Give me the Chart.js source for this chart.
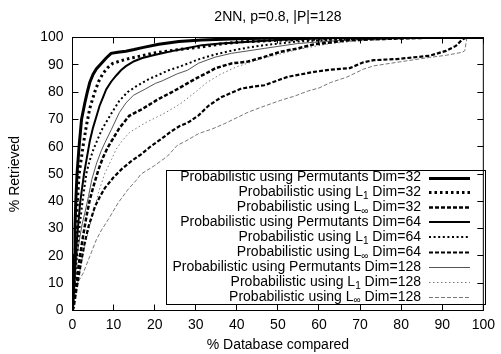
<!DOCTYPE html>
<html><head><meta charset="utf-8">
<script src="https://cdn.jsdelivr.net/npm/chart.js@4/dist/chart.umd.min.js"></script>
<style>html,body{margin:0;padding:0;background:#fff}#wrap{width:501px;height:354px}</style>
</head><body><div id="wrap"><canvas id="c" width="501" height="354"></canvas></div>
<script>
const chartTitle = '2NN, p=0.8, |P|=128';
const xTitle = '% Database compared';
const yTitle = '% Retrieved';
const xTicks = [0, 10, 20, 30, 40, 50, 60, 70, 80, 90, 100];
const yTicks = [0, 10, 20, 30, 40, 50, 60, 70, 80, 90, 100];
const seriesNames = [
  'Probabilistic using Permutants Dim=32',
  'Probabilistic using L_1 Dim=32',
  'Probabilistic using L_\u221e Dim=32',
  'Probabilistic using Permutants Dim=64',
  'Probabilistic using L_1 Dim=64',
  'Probabilistic using L_\u221e Dim=64',
  'Probabilistic using Permutants Dim=128',
  'Probabilistic using L_1 Dim=128',
  'Probabilistic using L_\u221e Dim=128'
];

const perm32X = [0, 0.2, 0.4, 0.6, 0.8, 1.1, 1.6, 2.2, 3.0, 3.6, 4.2, 5.0, 5.8, 7.0, 8.2, 9.4, 11, 13, 15, 17, 21, 25.9, 31.4, 40, 50, 60, 100];
const perm32Y = [0, 10, 20, 30, 40, 50, 60, 70, 76, 80, 83.5, 86.5, 88.5, 90.5, 92.5, 94.2, 94.6, 95, 95.6, 96.3, 97.5, 98.5, 99.1, 99.5, 99.8, 100, 100];

const l1d32X = [0, 0.3, 0.6, 0.9, 1.2, 1.6, 2.6, 3.3, 4.2, 5.4, 6.4, 7.4, 8.6, 9.8, 11.8, 13.8, 16.5, 19.4, 22, 25, 28, 31.5, 36, 41, 50, 60, 70, 80, 100];
const l1d32Y = [0, 10, 20, 30, 40, 50, 60.5, 67, 74, 80, 84, 86.8, 89, 90.5, 91.5, 92.3, 93.2, 94.2, 94.8, 95.4, 96, 96.6, 97.6, 98.4, 99, 99.4, 99.7, 100, 100];

const linf32X = [0, 0.4, 1.0, 1.8, 2.6, 3.4, 4.2, 5.1, 6.3, 7.4, 8.6, 9.8, 11.4, 13.8, 15.4, 17, 20.2, 22, 24.2, 26, 28.3, 30.7, 32.7, 34.7, 38.7, 42.7, 46.7, 50.7, 54.8, 58.8, 62.8, 66.8, 72, 78.9, 86, 100];
const linf32Y = [0, 5, 11.2, 19.8, 27.5, 34.5, 40.5, 45.5, 51.5, 56, 59.8, 62.8, 66.8, 71.3, 72.6, 73.8, 76.8, 78.3, 80, 81.5, 83.5, 85.5, 87, 88.7, 90.5, 91.2, 92.9, 94.8, 96, 97.5, 98.2, 98.9, 99.3, 99.6, 99.9, 100];

const perm64X = [0, 0.4, 0.8, 1.3, 1.9, 2.8, 3.5, 4.2, 5.0, 5.8, 6.6, 7.4, 8.2, 9.4, 10.6, 11.8, 13, 15, 17, 19.4, 21.8, 24.5, 27.5, 31.5, 36, 40, 50, 60, 70, 80, 100];
const perm64Y = [0, 10, 20, 30, 40, 50, 56, 62, 67, 71, 75, 78, 81, 83.8, 86, 88, 89.5, 91.3, 92.5, 93.4, 94.2, 95.1, 96, 97.2, 97.8, 98.2, 99.1, 99.6, 99.9, 100, 100];

const l1d64X = [0, 0.5, 1.1, 1.8, 2.6, 3.4, 4.2, 5.1, 6.2, 7.2, 8.6, 9.8, 11.4, 13.4, 15.4, 18.6, 20.2, 23.4, 25.9, 28.3, 30.7, 34.7, 38.7, 42.7, 46.7, 54.8, 62.8, 70, 80, 90, 100];
const l1d64Y = [0, 10, 20, 32, 41.8, 50.4, 55, 59, 63, 66.4, 70, 73, 76.8, 80, 82, 84.8, 85.8, 88, 89.2, 90.6, 92, 93.8, 95.2, 96.3, 97.2, 98.5, 99.2, 99.6, 99.9, 100, 100];

const linf64X = [0, 0.3, 0.8, 1.35, 2.2, 3.0, 3.9, 4.7, 5.5, 6.7, 7.9, 9.9, 11.9, 14.3, 16.7, 19.1, 21.5, 23.9, 26, 28.3, 30.7, 33.1, 36.3, 41.1, 44, 46.7, 50.7, 52.4, 58.8, 62.8, 67.5, 70.8, 73.3, 78.9, 86.9, 90.9, 93.3, 94.9, 96, 100];
const linf64Y = [0, 1, 6, 11.2, 18.6, 25, 30.8, 34.5, 38.2, 41.8, 44.9, 48.6, 51.7, 54.7, 57.2, 60.2, 62.7, 65.5, 67.5, 69, 71.5, 75, 78.2, 81.3, 82, 82.5, 84.7, 85.6, 87.4, 88.2, 88.8, 90.9, 91.7, 92.1, 93.3, 95.1, 96.9, 99.3, 100, 100];

const perm128X = [0, 0.5, 1.1, 1.8, 2.4, 3.0, 3.9, 4.7, 5.9, 7.0, 7.9, 9.5, 11.4, 13, 14.8, 17.8, 20.2, 21.8, 25.5, 28, 30.7, 34.7, 38.7, 46.7, 54.8, 62.8, 70, 80, 90, 100];
const perm128Y = [0, 10, 20, 27, 32, 35.7, 41.8, 48, 54.1, 58.5, 61.5, 66.4, 72.5, 76, 78.8, 81.2, 83.2, 84.1, 86.7, 88, 90.6, 92.8, 94.2, 96, 97.8, 98.7, 99.2, 99.6, 99.9, 100];

const l1d128X = [0, 0.6, 1.35, 2.4, 3.3, 4.2, 5.1, 6.3, 7.9, 9.5, 10.6, 11.9, 13.8, 15.8, 17.8, 20.2, 22.7, 24.7, 26.7, 29.9, 32.7, 36, 40, 46.7, 54.8, 62.8, 70, 80, 90, 100];
const l1d128Y = [0, 4, 11.2, 19.5, 25.5, 30.8, 35.7, 43.1, 50.4, 55.3, 59, 61.8, 65.1, 67, 68.8, 70.6, 72.5, 74.3, 76.2, 80, 83.5, 86.5, 89.3, 92.5, 95.6, 97.8, 98.8, 99.5, 99.9, 100];

const linf128X = [0, 0.6, 1.2, 2.6, 4.2, 5.8, 7.1, 8.7, 11.1, 13.5, 15.4, 16.7, 19.9, 23.1, 25.5, 27.5, 30.7, 34, 37.1, 42.7, 46, 50.7, 54, 57.5, 60, 62.8, 66.8, 70.8, 73.3, 78.9, 86.9, 91, 94.9, 95.5, 96, 100];
const linf128Y = [0, 4, 10, 13.7, 19.8, 25.9, 29.6, 33.3, 39.4, 44.3, 47.5, 50, 53, 56.5, 60.5, 62, 64.8, 66.5, 68.5, 72.6, 74.5, 77, 78.5, 80.5, 81.5, 83.5, 85.5, 88.4, 89.6, 90.9, 92.7, 93.5, 94.6, 95.2, 100, 100];

const seriesX = [perm32X, l1d32X, linf32X, perm64X, l1d64X, linf64X, perm128X, l1d128X, linf128X];
const seriesY = [perm32Y, l1d32Y, linf32Y, perm64Y, l1d64Y, linf64Y, perm128Y, l1d128Y, linf128Y];

const styles = [
  {c:'#000', w:3,   d:[]},
  {c:'#000', w:3,   d:[2.5,3]},
  {c:'#000', w:2.5, d:[4,2]},
  {c:'#000', w:2,   d:[]},
  {c:'#000', w:2,   d:[2,2.6]},
  {c:'#000', w:2.2, d:[4,2]},
  {c:'#555', w:1,   d:[]},
  {c:'#777', w:1,   d:[1.5,2.5]},
  {c:'#777', w:1,   d:[4,2]}
];

const FONT = '"Liberation Sans", Arial, Helvetica, sans-serif';

const datasets = seriesNames.map((name, i) => ({
  label: name,
  data: seriesX[i].map((x, k) => ({x: x, y: seriesY[i][k]})),
  borderColor: styles[i].c,
  borderWidth: styles[i].w,
  borderDash: styles[i].d,
  borderCapStyle: 'butt',
  borderJoinStyle: 'miter',
  pointRadius: 0,
  fill: false,
  tension: 0
}));

function drawRich(ctx, text, xRight, yMid) {
  const parts = text.split(/_(.)/);
  const big = '14px ' + FONT, small = '10px ' + FONT;
  let total = 0;
  parts.forEach((p, i) => { ctx.font = (i % 2) ? small : big; total += ctx.measureText(p).width; });
  let x = xRight - total;
  ctx.textAlign = 'left';
  ctx.textBaseline = 'middle';
  parts.forEach((p, i) => {
    ctx.font = (i % 2) ? small : big;
    ctx.fillText(p, x, (i % 2) ? yMid + 4 : yMid);
    x += ctx.measureText(p).width;
  });
}

const framePlugin = {
  id: 'frame',
  afterDatasetsDraw(chart) {
    const {ctx, chartArea: a, scales: {x, y}} = chart;
    ctx.save();
    // legend box
    const bx = 166.5, by = 170.5, bw = 319, bh = 134;
    ctx.fillStyle = '#fff';
    ctx.fillRect(bx, by, bw, bh);
    ctx.strokeStyle = '#000';
    ctx.lineWidth = 1;
    ctx.setLineDash([]);
    ctx.strokeRect(bx, by, bw, bh);
    chart.data.datasets.forEach((ds, i) => {
      const ym = 177.5 + i * 14.9;
      ctx.fillStyle = '#000';
      drawRich(ctx, ds.label, 421, ym);
      ctx.beginPath();
      ctx.strokeStyle = ds.borderColor;
      ctx.lineWidth = ds.borderWidth;
      ctx.setLineDash(ds.borderDash);
      ctx.lineCap = 'butt';
      const yy = Math.round(ym) + (ds.borderWidth % 2 ? 0.5 : 0);
      ctx.moveTo(429, yy);
      ctx.lineTo(470, yy);
      ctx.stroke();
    });
    ctx.setLineDash([]);
    // border
    ctx.strokeStyle = '#000';
    ctx.lineWidth = 1;
    ctx.strokeRect(a.left, a.top, a.right - a.left, a.bottom - a.top);
    // inward ticks
    const L = 6;
    ctx.beginPath();
    xTicks.forEach(v => {
      const p = Math.floor(x.getPixelForValue(v)) + 0.5;
      ctx.moveTo(p, a.bottom); ctx.lineTo(p, a.bottom - L);
      ctx.moveTo(p, a.top); ctx.lineTo(p, a.top + L);
    });
    yTicks.forEach(v => {
      const p = Math.floor(y.getPixelForValue(v)) + 0.5;
      ctx.moveTo(a.left, p); ctx.lineTo(a.left + L, p);
      ctx.moveTo(a.right, p); ctx.lineTo(a.right - L, p);
    });
    ctx.stroke();
    // title
    ctx.fillStyle = '#000';
    ctx.font = '14px ' + FONT;
    ctx.textAlign = 'center';
    ctx.textBaseline = 'middle';
    ctx.fillText(chartTitle, (a.left + a.right) / 2, 17.5);
    ctx.restore();
  }
};

new Chart(document.getElementById('c'), {
  type: 'line',
  data: {datasets: datasets},
  options: {
    responsive: false,
    devicePixelRatio: 1,
    animation: false,
    layout: {padding: {left: 0.5, right: 13.5, top: 37.5, bottom: 0}},
    plugins: {legend: {display: false}, title: {display: false}, tooltip: {enabled: false}},
    scales: {
      x: {
        type: 'linear', min: 0, max: 100,
        afterFit: s => { s.height = 43.5; },
        afterBuildTicks: s => { s.ticks = xTicks.map(v => ({value: v})); },
        grid: {display: false, drawTicks: false},
        border: {display: false},
        ticks: {color: '#000', padding: 6, maxRotation: 0, font: {family: FONT, size: 14}},
        title: {display: true, text: xTitle, color: '#000', font: {family: FONT, size: 14}, padding: {top: 0, bottom: 0}}
      },
      y: {
        type: 'linear', min: 0, max: 100,
        afterFit: s => { s.width = 72; },
        afterBuildTicks: s => { s.ticks = yTicks.map(v => ({value: v})); },
        grid: {display: false, drawTicks: false},
        border: {display: false},
        ticks: {color: '#000', padding: 9, font: {family: FONT, size: 14}},
        title: {display: true, text: yTitle, color: '#000', font: {family: FONT, size: 14}, padding: {top: 6.5, bottom: 0}}
      }
    }
  },
  plugins: [framePlugin]
});
</script>
</body></html>
